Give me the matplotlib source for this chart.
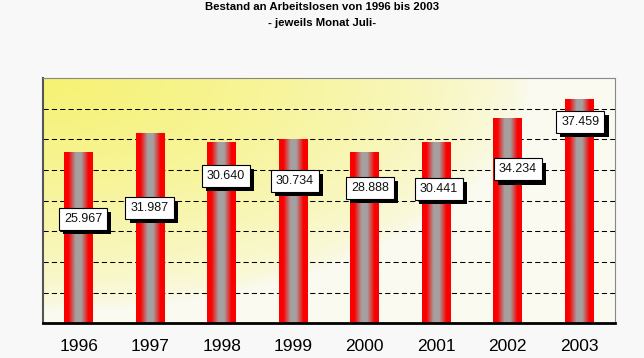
import numpy as np
import matplotlib
matplotlib.use('Agg')
import matplotlib.pyplot as plt
import matplotlib.patheffects as pe

plt.rcParams['font.family'] = ['Liberation Sans', 'DejaVu Sans']

# ---- data ----
years = ['1996', '1997', '1998', '1999', '2000', '2001', '2002', '2003']
arbeitslose = [25967, 31987, 30640, 30734, 28888, 30441, 34234, 37459]   # label values
bar_heights = [27800, 30850, 29400, 29850, 27800, 29450, 33300, 36400]   # drawn bar heights
title = 'Bestand an Arbeitslosen von 1996 bis 2003'
subtitle = '- jeweils Monat Juli-'

# ---- layout (label placement, data coords) ----
label_y = [16980, 18880, 23970, 23250, 22060, 21950, 25080, 32790]
label_dx = [0.06, -0.01, 0.06, 0.02, 0.07, 0.035, 0.14, 0.015]

fig = plt.figure(figsize=(6.44, 3.58), dpi=100, facecolor='#f8f8f8')
ax = fig.add_axes([43 / 644, 1 - 323.3 / 358, 572 / 644, 245.3 / 358])

# background gradient (yellow top-left to pale cream)
H, W = 200, 400
u = np.linspace(0, 1, W)[None, :]
v = np.linspace(0, 1, H)[:, None]
f = np.clip(1 - np.sqrt((u / 0.85) ** 2 + (v / 0.95) ** 2), 0, 1) ** 0.6
yellow = np.array([246, 242, 115]) / 255
base = np.array([250, 250, 240]) / 255
bg = base + (yellow - base) * f[..., None]
ax.imshow(bg, extent=(0, 1, 0, 1), transform=ax.transAxes, aspect='auto',
          zorder=0, interpolation='bilinear')

x = np.arange(len(years))
bars = ax.bar(x, bar_heights, width=0.4, color='none', edgecolor='none', zorder=2)

# cylinder-like gradient for bars
N = 64
t = np.linspace(-1, 1, N)
g = np.clip((np.abs(t) - 0.2) / 0.5, 0, 1)
grey = np.array([165, 160, 160]) / 255
red = np.array([250, 0, 0]) / 255
grad = (grey + (red - grey) * g[:, None])[None, :, :]
for rect in bars:
    x0, w, h = rect.get_x(), rect.get_width(), rect.get_height()
    ax.imshow(grad, extent=(x0, x0 + w, 0, h), aspect='auto', zorder=2,
              interpolation='bilinear')

ax.set_xlim(-0.5, len(years) - 0.5)
ax.set_ylim(0, 40000)

ax.set_yticks(np.arange(5000, 40000, 5000))
ax.yaxis.grid(True, color='black', linestyle=(0, (5, 3)), lw=0.75)
ax.tick_params(axis='y', length=0, labelleft=False)
ax.set_xticks(x, years)
ax.tick_params(axis='x', length=0, pad=11, labelsize=12.5)

ax.spines['left'].set_color('#555555')
ax.spines['left'].set_linewidth(1.5)
for s in ('top', 'right'):
    ax.spines[s].set_color('#888888')
    ax.spines[s].set_linewidth(0.8)
ax.spines['bottom'].set_color('black')
ax.spines['bottom'].set_linewidth(2)

for i, val in enumerate(arbeitslose):
    txt = f"{val:,}".replace(',', '.')
    tt = ax.text(x[i] + label_dx[i], label_y[i], txt, ha='center', va='center',
                 fontsize=9, zorder=5, color='#111111',
                 bbox=dict(boxstyle='square,pad=0.4', fc='white', ec='black', lw=0.8))
    tt.get_bbox_patch().set_path_effects(
        [pe.withSimplePatchShadow(offset=(3, -3), shadow_rgbFace='black', alpha=1)])

fig.text(0.5, 1 - 7.5 / 358, title, ha='center', va='center', fontsize=8.2,
         fontweight='bold')
fig.text(0.5, 1 - 23.5 / 358, subtitle, ha='center', va='center', fontsize=8.2,
         fontweight='bold')

fig.savefig('out.png', dpi=100, facecolor=fig.get_facecolor())
